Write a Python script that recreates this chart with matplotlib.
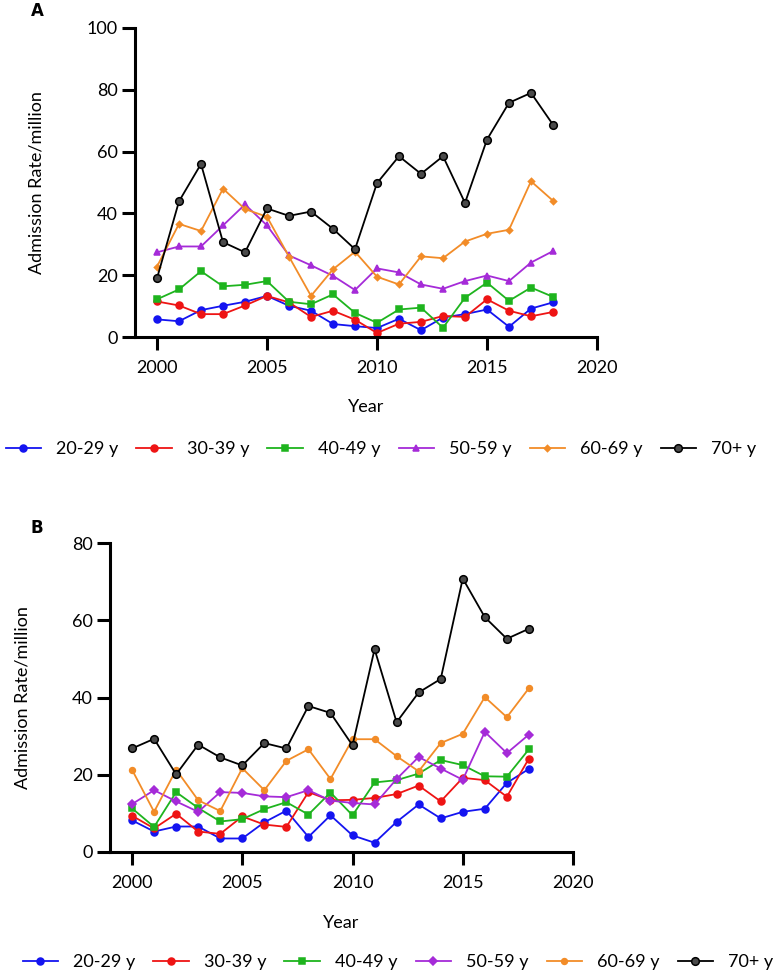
import matplotlib
matplotlib.use("Agg")
import matplotlib.pyplot as plt

plt.rcParams['font.family'] = ['Lato', 'DejaVu Sans']

years = list(range(2000, 2019))
groups = ["20-29 y", "30-39 y", "40-49 y", "50-59 y", "60-69 y", "70+ y"]

# Panel A values
a_20_29 = [5.7, 5.1, 8.7, 10.1, 11.4, 13.3, 10.1, 8.5, 4.2, 3.5, 2.9, 5.9, 2.2, 6.3, 7.4, 8.9, 3.3, 9.2, 11.2]
a_30_39 = [11.5, 10.2, 7.4, 7.4, 10.2, 13.3, 11.2, 6.5, 8.5, 5.6, 1.3, 4.3, 4.9, 6.8, 6.5, 12.2, 8.5, 6.7, 8.1]
a_40_49 = [12.2, 15.4, 21.3, 16.4, 16.9, 18.1, 11.4, 10.6, 13.8, 7.8, 4.6, 8.9, 9.5, 3.0, 12.7, 17.6, 11.7, 16.0, 13.0]
a_50_59 = [27.4, 29.3, 29.3, 36.1, 42.9, 36.1, 26.4, 23.2, 19.8, 15.2, 22.2, 20.9, 17.0, 15.6, 18.1, 19.9, 18.1, 24.1, 27.8]
a_60_69 = [22.8, 36.6, 34.3, 48.0, 41.4, 38.9, 26.0, 13.3, 21.9, 27.6, 19.5, 17.0, 26.1, 25.5, 30.9, 33.4, 34.7, 50.4, 44.1]
a_70p = [19.0, 43.9, 56.0, 30.7, 27.4, 41.6, 39.2, 40.6, 35.0, 28.4, 49.8, 58.5, 52.8, 58.5, 43.4, 63.9, 75.8, 79.0, 68.7]

# Panel B values
b_20_29 = [8.2, 5.3, 6.6, 6.6, 3.5, 3.5, 7.7, 10.7, 3.9, 9.5, 4.3, 2.4, 7.8, 12.3, 8.7, 10.4, 11.2, 17.9, 21.5]
b_30_39 = [9.4, 6.1, 9.9, 5.3, 4.7, 9.2, 7.1, 6.5, 15.5, 13.4, 13.5, 14.0, 15.0, 17.2, 13.1, 19.2, 18.6, 14.3, 24.2]
b_40_49 = [11.3, 6.5, 15.5, 11.4, 7.9, 8.5, 11.1, 12.9, 9.7, 15.4, 9.5, 18.0, 18.6, 20.3, 23.8, 22.5, 19.6, 19.5, 26.6]
b_50_59 = [12.4, 16.0, 13.1, 10.4, 15.5, 15.3, 14.4, 14.2, 16.0, 13.3, 12.7, 12.3, 18.9, 24.6, 21.6, 18.7, 31.1, 25.6, 30.4]
b_60_69 = [21.3, 10.4, 21.3, 13.4, 10.6, 21.7, 16.0, 23.6, 26.6, 18.9, 29.2, 29.2, 24.8, 20.9, 28.2, 30.6, 40.1, 34.9, 42.4]
b_70p = [26.8, 29.3, 20.1, 27.8, 24.5, 22.4, 28.2, 26.8, 37.8, 36.0, 27.6, 52.5, 33.6, 41.3, 44.8, 70.8, 60.8, 55.2, 57.8]

x_ticks = [2000, 2005, 2010, 2015, 2020]
a_yticks = [0, 20, 40, 60, 80, 100]
b_yticks = [0, 20, 40, 60, 80]

colors = ['#1414F0', '#EE1414', '#1EB41E', '#A52BD8', '#F28C28', '#000000']
a_markers = [('o', 5), ('o', 5), ('s', 5), ('^', 5), ('D', 3.2), ('o', 5.5)]
b_markers = [('o', 5), ('o', 5), ('s', 5), ('D', 3.8), ('o', 4.2), ('o', 5.5)]

W, H = 778, 973
fig = plt.figure(figsize=(W / 100, H / 100), dpi=100)

def px_axes(left, right, top, bottom):
    return fig.add_axes([left / W, 1 - bottom / H, (right - left) / W, (bottom - top) / H])

axA = px_axes(135, 597, 28, 337)
axB = px_axes(110, 573, 543, 852)

FS = 13
LW_AX = 2.2

def style(ax, ymax, yticks, ylab_x, xlab_y):
    ax.set_xlim(1999, 2020)
    ax.set_ylim(0, ymax)
    ax.set_xticks(x_ticks)
    ax.set_yticks(yticks)
    for s in ['top', 'right']:
        ax.spines[s].set_visible(False)
    for s in ['left', 'bottom']:
        ax.spines[s].set_linewidth(LW_AX)
    ax.tick_params(axis='both', length=9.5, width=LW_AX, labelsize=FS, direction='out')
    ax.tick_params(axis='x', pad=7)
    ax.tick_params(axis='y', pad=3)
    ax.set_ylabel('Admission Rate/million', fontsize=FS)
    ax.yaxis.label.set_va('center')
    ax.yaxis.set_label_coords(ylab_x, 0.5)
    ax.set_xlabel('Year', fontsize=FS)
    ax.xaxis.label.set_va('center')
    ax.xaxis.set_label_coords(0.5, xlab_y)

def plot_panel(ax, series, markers):
    handles = []
    for vals, c, (m, ms), lab in zip(series, colors, markers, groups):
        if lab == '70+ y':
            mfc, mec = '#4a4a4a', '#000000'
        else:
            mfc, mec = c, c
        h, = ax.plot(years, vals, color=c, lw=1.3, marker=m, ms=ms,
                     mfc=mfc, mec=mec, mew=1.1, label=lab, clip_on=False)
        handles.append(h)
    return handles

hA = plot_panel(axA, [a_20_29, a_30_39, a_40_49, a_50_59, a_60_69, a_70p], a_markers)
hB = plot_panel(axB, [b_20_29, b_30_39, b_40_49, b_50_59, b_60_69, b_70p], b_markers)

style(axA, 100, a_yticks, (37 - 135) / 462, -(407 - 337) / 309)
style(axB, 80, b_yticks, (23 - 110) / 463, -(923 - 852) / 309)

fig.text(37 / W, 1 - 11 / H, 'A', fontsize=12, fontweight='bold', ha='center', va='center',
         family=['DejaVu Sans'])
fig.text(37 / W, 1 - 528 / H, 'B', fontsize=12, fontweight='bold', ha='center', va='center',
         family=['DejaVu Sans'])

leg_kw = dict(ncol=6, frameon=False, fontsize=FS, handlelength=1.95, handletextpad=0.85,
              columnspacing=1.0, loc='center', borderaxespad=0, borderpad=0)
fig.legend(hA, groups, bbox_to_anchor=(381 / W, 1 - 449 / H), **leg_kw)
fig.legend(hB, groups, bbox_to_anchor=(398 / W, 1 - 962 / H), **leg_kw)

fig.savefig('out.png', dpi=100)
